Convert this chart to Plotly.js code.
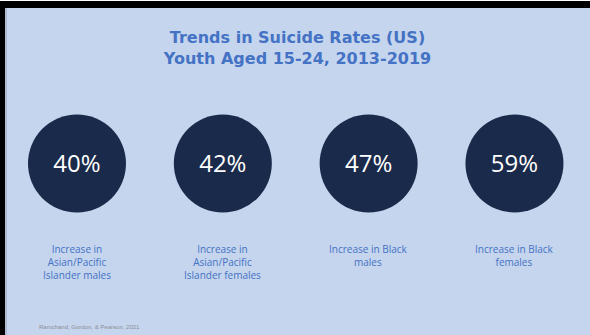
<!DOCTYPE html>
<html><head><meta charset="utf-8">
<script src="https://cdn.plot.ly/plotly-3.0.1.min.js"></script>
<style>html,body{margin:0;padding:0;background:#C5D5ED;overflow:hidden}</style>
</head><body><div id="chart" style="width:590px;height:335px"></div>
<script>
const categories = ['Asian/Pacific Islander males','Asian/Pacific Islander females','Black males','Black females'];
const increasePct = [40, 42, 47, 59];
const labelTexts = ['Increase in<br>Asian/Pacific<br>Islander males','Increase in<br>Asian/Pacific<br>Islander females','Increase in Black<br>males','Increase in Black<br>females'];
const titleLines = ['Trends in Suicide Rates (US)','Youth Aged 15-24, 2013-2019'];
const sourceNote = 'Ramchand, Gordon, & Pearson, 2021';

const W = 590, H = 335;
const bg = '#C5D5ED', navy = '#1A2A4A', blue = '#4472C4';
const py = p => 1 - p / H;
const circleY = py(163.5);
const textY = py(165.5);

const circles = {
  type: 'scatter', mode: 'markers',
  x: categories,
  y: categories.map(() => circleY),
  marker: {size: 98, color: navy, line: {width: 0}},
  hoverinfo: 'skip', cliponaxis: false
};
const values = {
  type: 'scatter', mode: 'text',
  x: categories,
  y: categories.map(() => textY),
  text: increasePct.map(v => v + '%'),
  textposition: 'middle center',
  textfont: {family: 'Open Sans', size: 24, color: '#FFFFFF'},
  hoverinfo: 'skip', cliponaxis: false
};

const annotations = labelTexts.map((t, i) => ({
  xref: 'x', yref: 'paper', x: categories[i], y: py(240),
  xanchor: 'center', yanchor: 'top', showarrow: false,
  text: t, align: 'center',
  font: {family: 'Open Sans', size: 10, color: blue}
}));
annotations.push({
  xref: 'paper', yref: 'paper', x: 37 / W, y: py(327), xanchor: 'left', yanchor: 'middle',
  showarrow: false, text: sourceNote,
  font: {family: 'Liberation Sans', size: 6, color: '#8A8F99'}
});

const layout = {
  width: W, height: H,
  margin: {l: 0, r: 0, t: 0, b: 0},
  paper_bgcolor: bg, plot_bgcolor: bg,
  showlegend: false,
  title: {
    text: titleLines.join('<br>'),
    x: 297.5 / W, xanchor: 'center', xref: 'paper',
    y: py(43), yanchor: 'top', yref: 'container',
    font: {family: 'DejaVu Sans', size: 16, color: blue, weight: 'bold'}
  },
  xaxis: {type: 'category', range: [-0.528, 3.518], visible: false, fixedrange: true},
  yaxis: {range: [0, 1], visible: false, fixedrange: true},
  annotations: annotations,
  shapes: [
    {type: 'rect', xref: 'paper', yref: 'paper', x0: 0, x1: 1, y0: py(1), y1: 1, fillcolor: '#FFFFFF', line: {width: 0}, layer: 'above'},
    {type: 'rect', xref: 'paper', yref: 'paper', x0: 0, x1: 1, y0: py(8), y1: py(1), fillcolor: '#000000', line: {width: 0}, layer: 'above'},
    {type: 'rect', xref: 'paper', yref: 'paper', x0: 0, x1: 5 / W, y0: 0, y1: py(1), fillcolor: '#000000', line: {width: 0}, layer: 'above'},
    {type: 'rect', xref: 'paper', yref: 'paper', x0: 5 / W, x1: 7 / W, y0: 0, y1: py(8), fillcolor: '#AEBBD0', line: {width: 0}, layer: 'above'}
  ]
};

Plotly.newPlot('chart', [circles, values], layout, {displayModeBar: false, staticPlot: true});
</script></body></html>
